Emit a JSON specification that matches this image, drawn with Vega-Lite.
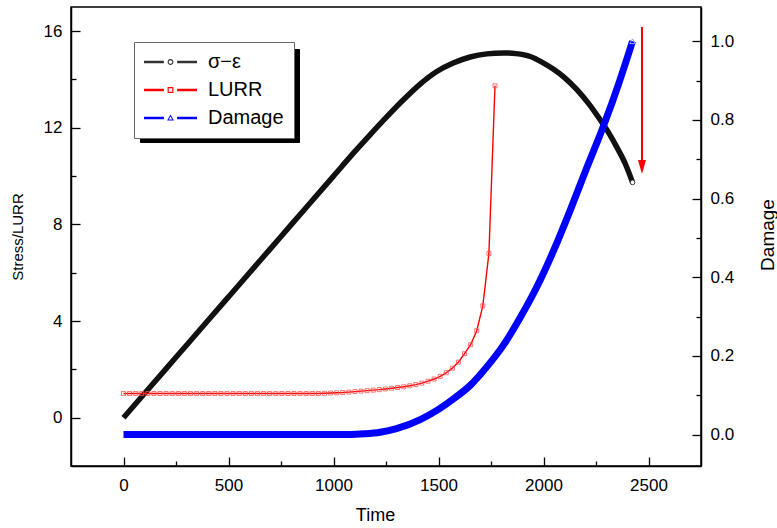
{
  "$schema": "https://vega.github.io/schema/vega-lite/v6.json",
  "width": 630,
  "height": 459,
  "autosize": {"type": "none"},
  "padding": {"left": 71, "top": 7, "right": 76, "bottom": 62},
  "background": "white",
  "config": {
    "view": {"stroke": "black", "strokeWidth": 1.5},
    "font": "Liberation Sans",
    "axis": {"grid": false, "domainColor": "black", "domainWidth": 1.5, "tickColor": "black", "tickWidth": 1.3, "labelColor": "black", "titleColor": "black", "labelFont": "Liberation Sans", "titleFont": "Liberation Sans", "titleFontWeight": "normal"}
  },
  "datasets": {
    "stress": [
      {"t": 0, "v": 0}, {"t": 100, "v": 1.0}, {"t": 200, "v": 2.0}, {"t": 300, "v": 3.0}, {"t": 400, "v": 4.0},
      {"t": 500, "v": 5.0}, {"t": 600, "v": 6.0}, {"t": 700, "v": 7.0}, {"t": 800, "v": 8.0}, {"t": 900, "v": 9.0},
      {"t": 1000, "v": 10.0}, {"t": 1100, "v": 11.0}, {"t": 1175, "v": 11.72}, {"t": 1250, "v": 12.42}, {"t": 1334, "v": 13.17},
      {"t": 1410, "v": 13.79}, {"t": 1492, "v": 14.33}, {"t": 1570, "v": 14.68}, {"t": 1651, "v": 14.93}, {"t": 1730, "v": 15.06},
      {"t": 1810, "v": 15.1}, {"t": 1870, "v": 15.07}, {"t": 1937, "v": 14.95}, {"t": 1990, "v": 14.73}, {"t": 2048, "v": 14.42},
      {"t": 2100, "v": 14.08}, {"t": 2159, "v": 13.58}, {"t": 2215, "v": 13.0}, {"t": 2270, "v": 12.33}, {"t": 2310, "v": 11.8},
      {"t": 2349, "v": 11.2}, {"t": 2390, "v": 10.5}, {"t": 2424, "v": 9.74}
    ],
    "lurr": [
      {"t": 0, "v": 1.0}, {"t": 29, "v": 1.0}, {"t": 58, "v": 1.0}, {"t": 87, "v": 1.0}, {"t": 116, "v": 1.0}, {"t": 145, "v": 1.0},
      {"t": 174, "v": 1.0}, {"t": 203, "v": 1.0}, {"t": 232, "v": 1.0}, {"t": 261, "v": 1.0}, {"t": 290, "v": 1.0}, {"t": 319, "v": 1.0},
      {"t": 348, "v": 1.0}, {"t": 377, "v": 1.0}, {"t": 406, "v": 1.0}, {"t": 435, "v": 1.0}, {"t": 464, "v": 1.0}, {"t": 493, "v": 1.0},
      {"t": 522, "v": 1.0}, {"t": 551, "v": 1.0}, {"t": 580, "v": 1.0}, {"t": 609, "v": 1.0}, {"t": 638, "v": 1.0}, {"t": 667, "v": 1.0},
      {"t": 696, "v": 1.0}, {"t": 725, "v": 1.0}, {"t": 754, "v": 1.0}, {"t": 783, "v": 1.0}, {"t": 812, "v": 1.0}, {"t": 841, "v": 1.0},
      {"t": 870, "v": 1.0}, {"t": 899, "v": 1.0}, {"t": 928, "v": 1.0}, {"t": 957, "v": 1.01}, {"t": 986, "v": 1.02}, {"t": 1015, "v": 1.03},
      {"t": 1044, "v": 1.04}, {"t": 1073, "v": 1.06}, {"t": 1102, "v": 1.08}, {"t": 1131, "v": 1.1}, {"t": 1160, "v": 1.12}, {"t": 1189, "v": 1.14},
      {"t": 1218, "v": 1.16}, {"t": 1247, "v": 1.19}, {"t": 1276, "v": 1.22}, {"t": 1305, "v": 1.25}, {"t": 1334, "v": 1.28}, {"t": 1363, "v": 1.32},
      {"t": 1392, "v": 1.37}, {"t": 1421, "v": 1.43}, {"t": 1450, "v": 1.51}, {"t": 1479, "v": 1.6}, {"t": 1508, "v": 1.71}, {"t": 1537, "v": 1.86},
      {"t": 1566, "v": 2.05}, {"t": 1595, "v": 2.3}, {"t": 1624, "v": 2.65}, {"t": 1653, "v": 3.02}, {"t": 1682, "v": 3.6}, {"t": 1711, "v": 4.63},
      {"t": 1740, "v": 6.8}, {"t": 1769, "v": 13.74}
    ],
    "damage": [
      {"t": 0, "d": 0}, {"t": 500, "d": 0}, {"t": 1000, "d": 0}, {"t": 1070, "d": 0}, {"t": 1150, "d": 0.002}, {"t": 1222, "d": 0.006},
      {"t": 1300, "d": 0.015}, {"t": 1413, "d": 0.038}, {"t": 1500, "d": 0.064}, {"t": 1580, "d": 0.094}, {"t": 1651, "d": 0.125},
      {"t": 1730, "d": 0.172}, {"t": 1810, "d": 0.228}, {"t": 1890, "d": 0.298}, {"t": 1968, "d": 0.375}, {"t": 2050, "d": 0.47},
      {"t": 2127, "d": 0.57}, {"t": 2200, "d": 0.67}, {"t": 2286, "d": 0.785}, {"t": 2360, "d": 0.895}, {"t": 2424, "d": 1.0}
    ],
    "ends": [{"t": 2424, "v": 9.74}],
    "dend": [{"t": 2424, "d": 1.0}],
    "arrow": [{"t": 2469, "top": 16.17, "bottom": 10.5, "head": 10.38}],
    "shadow": [{"s": "σ−ε", "t": 0, "v": 0}, {"s": "LURR", "t": 0, "v": 0}, {"s": "Damage", "t": 0, "v": 0}]
  },
  "layer": [
    {
      "layer": [
        {
          "data": {"name": "stress"},
          "mark": {"type": "line", "strokeWidth": 5.5, "interpolate": "monotone"},
          "encoding": {
            "x": {"field": "t", "type": "quantitative", "scale": {"domain": [-250, 2750], "nice": false, "zero": false},
              "axis": {"orient": "bottom", "title": "Time", "values": [0, 250, 500, 750, 1000, 1250, 1500, 1750, 2000, 2250, 2500], "format": "d",
                "labelExpr": "datum.value % 500 === 0 ? datum.label : ''",
                "tickSize": {"condition": {"test": "datum.value % 500 === 0", "value": -9}, "value": -5},
                "labelPadding": 20, "labelFontSize": 17, "titleFontSize": 18, "titleX": 304, "titleY": 54, "titleAlign": "center", "titleBaseline": "alphabetic"}},
            "y": {"field": "v", "type": "quantitative", "scale": {"domain": [-2, 17], "nice": false, "zero": false},
              "axis": {"orient": "left", "title": "Stress/LURR", "values": [0, 2, 4, 6, 8, 10, 12, 14, 16], "format": "d",
                "labelExpr": "datum.value % 4 === 0 ? datum.label : ''",
                "tickSize": {"condition": {"test": "datum.value % 4 === 0", "value": -9}, "value": -5},
                "labelPadding": 18, "labelFontSize": 17, "titleFontSize": 15, "titleX": -54, "titleY": 229.5, "titleAngle": 270, "titleAlign": "center", "titleBaseline": "middle"}},
            "stroke": {"datum": "σ−ε", "type": "nominal",
              "scale": {"domain": ["σ−ε", "LURR", "Damage"], "range": ["#111111", "#ff0000", "#0000ff"]},
              "legend": {"orient": "none", "legendX": 63, "legendY": 35, "title": null, "zindex": 1, "fillColor": "white", "strokeColor": "#666666",
                "padding": 10, "symbolSize": 400, "symbolOffset": 16.5, "labelFontSize": 20, "labelOffset": 27.5, "rowPadding": 8, "labelColor": "black", "labelFont": "Liberation Sans",
                "encode": {"symbols": {"update": {
                  "shape": {"signal": "datum.value === 'LURR' ? 'M-2.65,-0.13H-0.66V0.13H-2.65Z M0.66,-0.13H2.65V0.13H0.66Z M-0.29,-0.29H0.29V0.29H-0.29Z M-0.18,-0.18V0.18H0.18V-0.18Z' : datum.value === 'Damage' ? 'M-2.65,-0.13H-0.66V0.13H-2.65Z M0.66,-0.13H2.65V0.13H0.66Z M0,-0.34L0.34,0.26H-0.34Z M0,-0.16L-0.18,0.16H0.18Z' : 'M-2.65,-0.13H-0.66V0.13H-2.65Z M0.66,-0.13H2.65V0.13H0.66Z M-0.29,0A0.29,0.29 0 1,1 0.29,0A0.29,0.29 0 1,1 -0.29,0Z M-0.18,0A0.18,0.18 0 1,0 0.18,0A0.18,0.18 0 1,0 -0.18,0Z'"},
                  "fill": {"signal": "datum.value === 'LURR' ? '#ff0000' : datum.value === 'Damage' ? '#0000ff' : '#333333'"},
                  "strokeWidth": {"value": 0},
                  "opacity": {"value": 1}
                }}}}}
          }
        },
        {
          "data": {"name": "lurr"},
          "mark": {"type": "line", "strokeWidth": 1.4},
          "encoding": {
            "x": {"field": "t", "type": "quantitative"},
            "y": {"field": "v", "type": "quantitative"},
            "stroke": {"datum": "LURR", "type": "nominal"}
          }
        },
        {
          "data": {"name": "lurr"},
          "mark": {"type": "point", "shape": "square", "size": 16, "filled": false, "stroke": "#ff5050", "strokeWidth": 0.8, "opacity": 1},
          "encoding": {
            "x": {"field": "t", "type": "quantitative"},
            "y": {"field": "v", "type": "quantitative"}
          }
        },
        {
          "data": {"name": "ends"},
          "mark": {"type": "point", "shape": "circle", "size": 22, "filled": true, "fill": "white", "stroke": "#333333", "strokeWidth": 1, "opacity": 1},
          "encoding": {
            "x": {"field": "t", "type": "quantitative"},
            "y": {"field": "v", "type": "quantitative"}
          }
        },
        {
          "data": {"name": "arrow"},
          "mark": {"type": "rule", "color": "#ff0000", "strokeWidth": 2},
          "encoding": {
            "x": {"field": "t", "type": "quantitative"},
            "y": {"field": "top", "type": "quantitative"},
            "y2": {"field": "bottom"}
          }
        },
        {
          "data": {"name": "arrow"},
          "mark": {"type": "point", "shape": "M-0.57,-1L0.57,-1L0,1Z", "size": 196, "filled": true, "color": "#ff0000", "opacity": 1},
          "encoding": {
            "x": {"field": "t", "type": "quantitative"},
            "y": {"field": "head", "type": "quantitative"}
          }
        },
        {
          "data": {"name": "shadow"},
          "mark": {"type": "point", "opacity": 0, "filled": true},
          "encoding": {
            "x": {"field": "t", "type": "quantitative"},
            "y": {"field": "v", "type": "quantitative"},
            "fill": {"field": "s", "type": "nominal", "scale": {"range": ["black", "black", "black"]},
              "legend": {"orient": "none", "legendX": 69, "legendY": 42, "title": null, "zindex": 0, "fillColor": "black", "strokeColor": "black",
                "padding": 10, "symbolSize": 400, "labelFontSize": 20, "labelOffset": 117, "rowPadding": 5, "labelColor": "black", "labelExpr": "''", "symbolOpacity": 1,
                "encode": {"symbols": {"update": {
                  "shape": {"value": "M-1,-0.2H1V0.2H-1Z"},
                  "fill": {"value": "black"}, "opacity": {"value": 1}
                }}}}}
          }
        }
      ]
    },
    {
      "layer": [
        {
          "data": {"name": "damage"},
          "mark": {"type": "line", "strokeWidth": 7, "interpolate": "monotone"},
          "encoding": {
            "x": {"field": "t", "type": "quantitative"},
            "y": {"field": "d", "type": "quantitative", "scale": {"domain": [-0.08, 1.087], "nice": false, "zero": false},
              "axis": {"orient": "right", "title": "Damage", "values": [0, 0.1, 0.2, 0.3, 0.4, 0.5, 0.6, 0.7, 0.8, 0.9, 1.0], "format": ".1f",
                "labelExpr": "round(datum.value * 10) % 2 === 0 ? datum.label : ''",
                "tickSize": {"condition": {"test": "round(datum.value * 10) % 2 === 0", "value": -9}, "value": -5},
                "labelPadding": 18, "labelFontSize": 17, "titleFontSize": 19, "titleX": 66, "titleY": 227.5, "titleAngle": 270, "titleAlign": "center", "titleBaseline": "middle"}},
            "stroke": {"datum": "Damage", "type": "nominal"}
          }
        },
        {
          "data": {"name": "dend"},
          "mark": {"type": "point", "shape": "triangle-up", "size": 30, "filled": false, "stroke": "#9999ff", "strokeWidth": 1, "opacity": 1},
          "encoding": {
            "x": {"field": "t", "type": "quantitative"},
            "y": {"field": "d", "type": "quantitative"}
          }
        }
      ]
    }
  ],
  "resolve": {"scale": {"y": "independent"}}
}
